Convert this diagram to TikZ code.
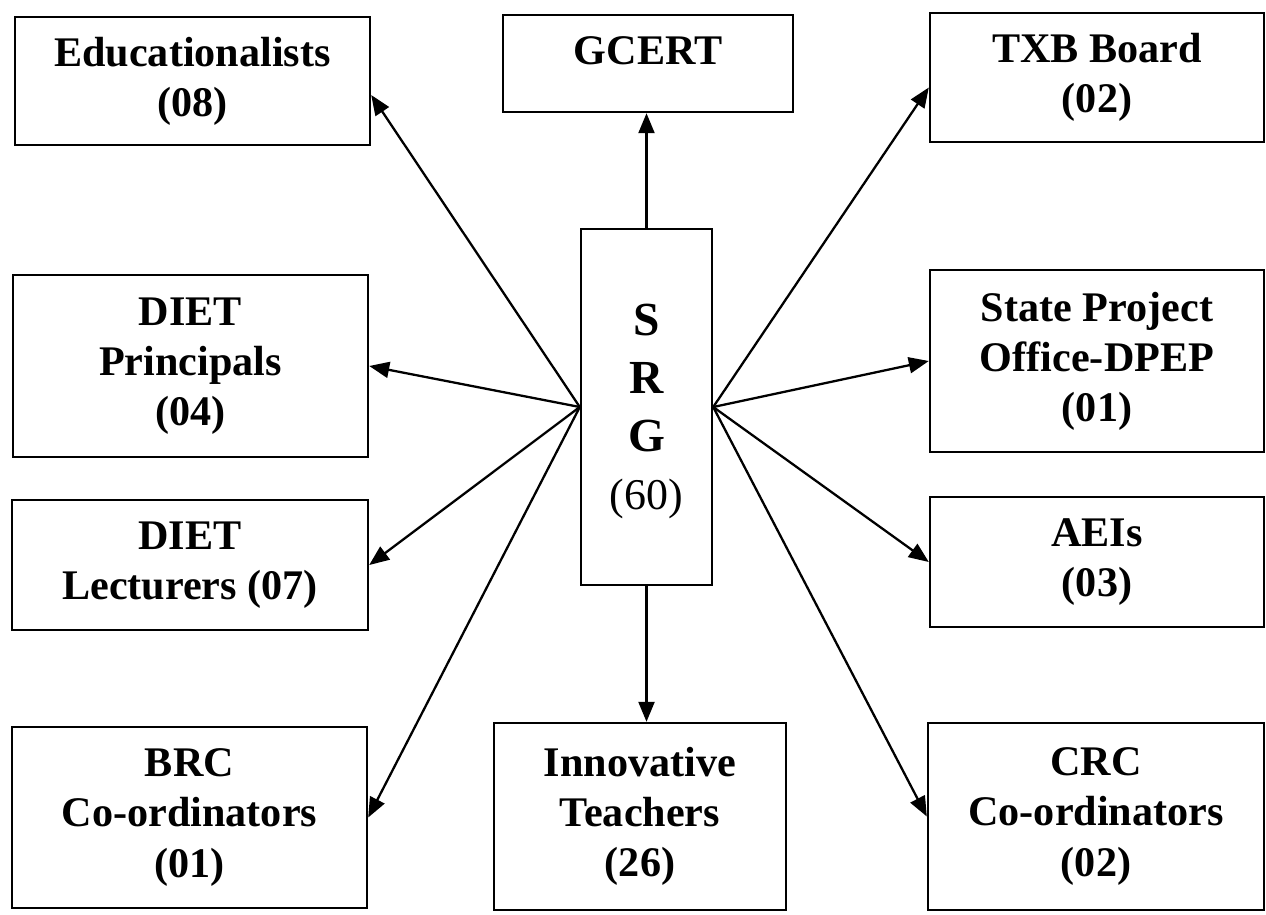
\documentclass[tikz,border=0pt]{standalone}
\usepackage{fontspec}
\setmainfont{Liberation Serif}
\usetikzlibrary{arrows.meta}

\begin{document}
\begin{tikzpicture}[
  x=0.02cm,y=-0.02cm,
  box/.style={draw,line width=1.4pt,align=center,inner sep=2pt,font=\bfseries\fontsize{24}{28.5}\selectfont},
  arr/.style={-{Triangle[length=0.4cm,width=0.32cm]},line width=1.3pt}
]
  \useasboundingbox (0,0) rectangle (1266,914);
  % centre
  \node[box,minimum width=2.62cm,minimum height=7.12cm,text depth=0pt,font=\bfseries\fontsize{27}{33}\selectfont] (srg) at (646.5,407) {S\\R\\G\\[0pt]\mdseries\fontsize{25}{28.5}\selectfont (60)};
  % top row
  \node[box,minimum width=7.1cm,minimum height=2.56cm] (edu) at (192.5,81) {Educationalists\\(08)};
  \node[box,minimum width=5.8cm,minimum height=1.94cm,text depth=0.5cm] (gcert) at (648,63.5) {GCERT};
  \node[box,minimum width=6.68cm,minimum height=2.58cm] (txb) at (1097,77.5) {TXB Board\\(02)};
  % left column
  \node[box,minimum width=7.1cm,minimum height=3.64cm] (dietp) at (190.5,366) {DIET\\Principals\\(04)};
  \node[box,minimum width=7.12cm,minimum height=2.6cm] (dietl) at (190,565) {DIET\\Lecturers (07)};
  % right column
  \node[box,minimum width=6.68cm,minimum height=3.64cm] (spo) at (1097,361) {State Project\\Office-DPEP\\(01)};
  \node[box,minimum width=6.68cm,minimum height=2.6cm] (aei) at (1097,562) {AEIs\\(03)};
  % bottom row
  \node[box,minimum width=7.1cm,minimum height=3.62cm] (brc) at (189.5,817.5) {BRC\\Co-ordinators\\(01)};
  \node[box,minimum width=5.84cm,minimum height=3.74cm] (inno) at (640,816.5) {Innovative\\Teachers\\(26)};
  \node[box,minimum width=6.72cm,minimum height=3.74cm] (crc) at (1096,816.5) {CRC\\Co-ordinators\\(02)};
  % arrows out of SRG
  \draw[arr] (srg.north) -- (srg.north |- gcert.south);
  \draw[arr] (srg.south) -- (srg.south |- inno.north);
  \draw[arr] (srg.west) -- ([yshift=-0.28cm]edu.east);
  \draw[arr] (srg.west) -- (dietp.east);
  \draw[arr] (srg.west) -- (dietl.east);
  \draw[arr] (srg.west) -- (brc.east);
  \draw[arr] (srg.east) -- ([yshift=-0.2cm]txb.west);
  \draw[arr] (srg.east) -- (spo.west);
  \draw[arr] (srg.east) -- (aei.west);
  \draw[arr] (srg.east) -- (crc.west);
\end{tikzpicture}
\end{document}
